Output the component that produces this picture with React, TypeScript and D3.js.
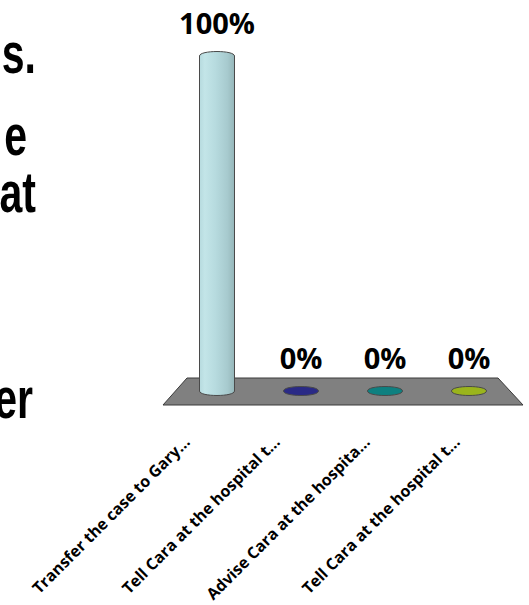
import React from "react";
import * as d3 from "d3";

const categories = [
  "Transfer the case to Gary...",
  "Tell Cara at the hospital t...",
  "Advise Cara at the hospita...",
  "Tell Cara at the hospital t...",
];
const values = [1, 0, 0, 0];
const valueLabels = ["100%", "0%", "0%", "0%"];
const seriesColors = ["#bde1e4", "#2a2a86", "#0e8080", "#9ab41c"];
const sideLines = ["s.", "e", "at", "er"];

const W = 529;
const H = 605;

export default function App() {
  const idx = categories.map((_, i) => String(i));
  // bars sit at mid-depth of the perspective floor
  const xMid = d3.scaleBand<string>().domain(idx).range([175, 511]);
  const xBack = d3.scaleBand<string>().domain(idx).range([187, 498]);
  const xFront = d3.scaleBand<string>().domain(idx).range([163, 523]);
  const y = d3.scaleLinear().domain([0, 1]).range([391, 56]);

  const floorBackY = y(0) - 13;
  const floorFrontY = y(0) + 14;
  const floorPts = [
    [xBack.range()[0], floorBackY],
    [xBack.range()[1], floorBackY],
    [xFront.range()[1], floorFrontY],
    [xFront.range()[0], floorFrontY],
  ];
  const floorPath = d3.line()(floorPts as [number, number][]) + "Z";

  const rx = 17.5;
  const ry = 4.5;

  const cyl = (cx: number, yb: number, yt: number) => {
    const x0 = cx - rx;
    const x1 = cx + rx;
    const p = d3.path();
    p.moveTo(x0, yb);
    p.lineTo(x0, yt);
    p.bezierCurveTo(x0, yt - ry * 1.33, x1, yt - ry * 1.33, x1, yt);
    p.lineTo(x1, yb);
    p.bezierCurveTo(x1, yb + ry * 1.33, x0, yb + ry * 1.33, x0, yb);
    p.closePath();
    return p.toString();
  };

  const sideY = [73, 155, 212, 418];
  const sideX = [36, 27, 36, 33];

  return (
    <svg
      width={W}
      height={H}
      style={{ position: "absolute", left: 0, top: 0, background: "#fff" }}
    >
      <defs>
        <linearGradient id="barGrad" x1="0" x2="1" y1="0" y2="0">
          <stop offset="0" stopColor="#b6dade" />
          <stop offset="0.15" stopColor="#c3e5e8" />
          <stop offset="0.45" stopColor="#b7dbdf" />
          <stop offset="0.8" stopColor="#a7cace" />
          <stop offset="1" stopColor="#95b6b9" />
        </linearGradient>
      </defs>

      {sideLines.map((t, i) => (
        <text
          key={"s" + i}
          transform={`translate(${sideX[i]},${sideY[i]}) scale(0.72,1)`}
          textAnchor="end"
          fontFamily="'Liberation Sans', Arial, sans-serif"
          fontWeight="bold"
          fontSize={57}
          fill="#000"
        >
          {t}
        </text>
      ))}

      <path d={floorPath} fill="#808080" stroke="#3a3a3a" strokeWidth={1} />

      {idx.map((k, i) => {
        const cx = (xMid(k) as number) + xMid.bandwidth() / 2;
        const yb = y(0);
        const yt = y(values[i]);
        return (
          <g key={"b" + i}>
            <path
              d={cyl(cx, yb, yt)}
              fill={i === 0 ? "url(#barGrad)" : seriesColors[i]}
              stroke="#4a4a4a"
              strokeWidth={1}
            />
            <text
              x={cx}
              y={yt - 22}
              textAnchor="middle"
              fontFamily="'Open Sans', sans-serif"
              fontWeight={700}
              fontSize={29}
              fill="#000"
            >
              {valueLabels[i]}
            </text>
          </g>
        );
      })}

      {idx.map((k, i) => {
        const cx = (xFront(k) as number) + xFront.bandwidth() / 2;
        return (
          <text
            key={"l" + i}
            transform={`translate(${cx - 17},${floorFrontY + 38}) rotate(-45)`}
            textAnchor="end"
            fontFamily="'Open Sans', sans-serif"
            fontWeight={700}
            fontSize={16}
            fill="#000"
          >
            {categories[i]}
          </text>
        );
      })}
    </svg>
  );
}
